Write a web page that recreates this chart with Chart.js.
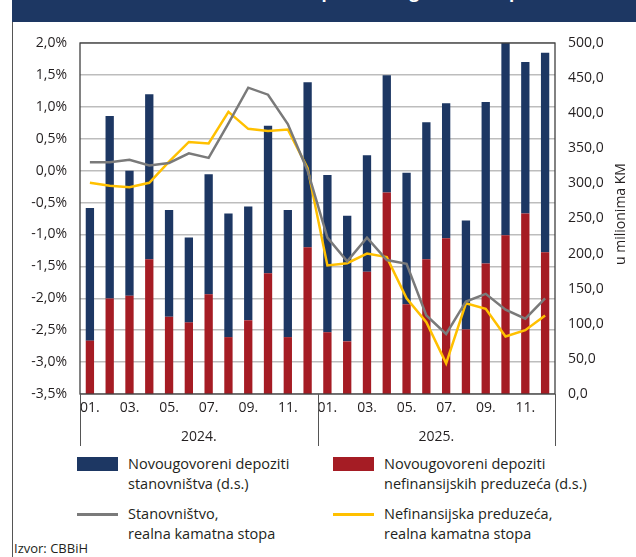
<!DOCTYPE html>
<html>
<head>
<meta charset="utf-8">
<script src="https://cdn.jsdelivr.net/npm/chart.js@4.4.1/dist/chart.umd.min.js"></script>
<style>
  body { margin: 0; background: #fff; font-family: "Open Sans", sans-serif; color: #231f20; }
  #wrap { position: relative; width: 636px; height: 557px; overflow: hidden; }
  #head { position: absolute; left: 12px; top: 0; width: 624px; height: 22px; background: #1d3763; overflow: hidden; }
  #head span { position: absolute; left: 140px; top: -20px; color: #fff; font-weight: bold; font-size: 17px; white-space: nowrap; line-height: 24px; }
  #edge { position: absolute; left: 12px; top: 22px; width: 1px; height: 535px; background: #555; }
  #cv { position: absolute; left: 0; top: 0; }
  .lg { position: absolute; font-size: 14.5px; line-height: 20px; }
  .box { position: absolute; width: 41px; height: 14px; }
  .ln { position: absolute; width: 41px; height: 3px; }
  #src { position: absolute; left: 14px; top: 539px; font-size: 13px; }
</style>
</head>
<body>
<div id="wrap">
  <div id="head"><span>Realne kamatne stope i novougovoreni depoziti</span></div>
  <div id="edge"></div>
  <canvas id="cv" width="636" height="450"></canvas>

  <div class="box" style="left:77px;top:457px;background:#1d3763"></div>
  <div class="lg" style="left:128px;top:454px">Novougovoreni depoziti<br>stanovništva (d.s.)</div>
  <div class="box" style="left:333px;top:457px;background:#a51c24"></div>
  <div class="lg" style="left:384px;top:454px">Novougovoreni depoziti<br>nefinansijskih preduzeća (d.s.)</div>
  <div class="ln" style="left:77px;top:513px;background:#7a7a7a"></div>
  <div class="lg" style="left:128px;top:504px">Stanovništvo,<br>realna kamatna stopa</div>
  <div class="ln" style="left:333px;top:513px;background:#ffc000"></div>
  <div class="lg" style="left:384px;top:504px">Nefinansijska preduzeća,<br>realna kamatna stopa</div>
  <div id="src">Izvor: CBBiH</div>
</div>
<script>
// months, two years
const months = ['01.','02.','03.','04.','05.','06.','07.','08.','09.','10.','11.','12.',
                '01.','02.','03.','04.','05.','06.','07.','08.','09.','10.','11.','12.'];
const years = ['2024.', '2025.'];

// novougovoreni depoziti, u milionima KM (desna skala)
const preduzeca = [76, 136, 140, 192, 110, 102, 142, 81, 105, 172, 81, 209,
                   88, 75, 174, 287, 128, 192, 222, 92, 186, 226, 257, 202];
const stanovnistvo = [189, 260, 178, 235, 152, 121, 171, 176, 162, 210, 181, 235,
                      224, 179, 166, 167, 187, 195, 192, 155, 230, 274, 216, 284];

// realne kamatne stope, % (lijeva skala)
const stopaStan = [0.13, 0.13, 0.17, 0.08, 0.12, 0.27, 0.20, 0.74, 1.30, 1.19, 0.73, 0.00,
                   -1.05, -1.42, -1.05, -1.40, -1.46, -2.27, -2.56, -2.05, -1.93, -2.18, -2.32, -2.00];
const stopaPred = [-0.19, -0.235, -0.26, -0.19, 0.14, 0.45, 0.425, 0.92, 0.655, 0.62, 0.645, 0.04,
                   -1.485, -1.45, -1.30, -1.355, -2.0, -2.375, -3.02, -2.08, -2.165, -2.6, -2.5, -2.27];

const txt = '#231f20';
const font = { family: 'Open Sans', size: 14 };

const extras = {
  id: 'extras',
  afterDraw(chart) {
    const c = chart.ctx, a = chart.chartArea, x = chart.scales.x;
    c.save();
    // okvir
    c.strokeStyle = '#404040';
    c.lineWidth = 1.3;
    c.strokeRect(a.left, a.top, a.right - a.left, a.bottom - a.top);
    // razdjelnici godina
    const mid = (x.getPixelForValue(11) + x.getPixelForValue(12)) / 2;
    c.lineWidth = 1;
    c.strokeStyle = '#555';
    c.beginPath();
    [a.left, mid, a.right].forEach(px => {
      c.moveTo(Math.round(px) + 0.5, a.bottom);
      c.lineTo(Math.round(px) + 0.5, 446);
    });
    c.stroke();
    c.fillStyle = txt;
    c.font = '14px "Open Sans"';
    c.textAlign = 'center';
    c.textBaseline = 'middle';
    c.fillText(years[0], (a.left + mid) / 2, 437);
    c.fillText(years[1], (mid + a.right) / 2, 437);
    // naslov desne ose
    c.translate(621, 214);
    c.rotate(-Math.PI / 2);
    c.fillText('u milionima KM', 0, 0);
    c.restore();
  }
};

new Chart(document.getElementById('cv'), {
  data: {
    labels: months,
    datasets: [
      { type: 'line', label: 'Stanovništvo, realna kamatna stopa', data: stopaStan, yAxisID: 'y',
        borderColor: '#7a7a7a', borderWidth: 2.5, pointRadius: 0, tension: 0, order: 0 },
      { type: 'line', label: 'Nefinansijska preduzeća, realna kamatna stopa', data: stopaPred, yAxisID: 'y',
        borderColor: '#ffc000', borderWidth: 2.5, pointRadius: 0, tension: 0, order: 0 },
      { type: 'bar', label: 'Novougovoreni depoziti nefinansijskih preduzeća (d.s.)', data: preduzeca, yAxisID: 'y1',
        backgroundColor: '#a51c24', stack: 'd', order: 1, categoryPercentage: 1, barPercentage: 0.42 },
      { type: 'bar', label: 'Novougovoreni depoziti stanovništva (d.s.)', data: stanovnistvo, yAxisID: 'y1',
        backgroundColor: '#1d3763', stack: 'd', order: 1, categoryPercentage: 1, barPercentage: 0.42 }
    ]
  },
  options: {
    responsive: false,
    animation: false,
    layout: { padding: { top: 43, left: 0, right: 0, bottom: 0 } },
    plugins: { legend: { display: false }, tooltip: { enabled: false } },
    scales: {
      x: {
        stacked: true,
        grid: { display: false, drawTicks: false },
        border: { display: false },
        ticks: {
          color: txt, font: font, padding: 6, autoSkip: false, maxRotation: 0,
          callback: (v, i) => i % 2 === 0 ? months[i] : ''
        },
        afterFit: s => { s.height = 56; }
      },
      y: {
        position: 'left', min: -3.5, max: 2.0,
        grid: { color: '#bdbdbd', lineWidth: 1.4, drawTicks: false },
        border: { display: false },
        ticks: {
          stepSize: 0.5, color: txt, font: font, padding: 13,
          callback: v => v.toFixed(1).replace('.', ',') + '%'
        },
        afterFit: s => { s.width = 80; }
      },
      y1: {
        position: 'right', min: 0, max: 500, stacked: true,
        grid: { display: false, drawTicks: false },
        border: { display: false },
        ticks: {
          stepSize: 50, color: txt, font: font, padding: 13,
          callback: v => v.toFixed(1).replace('.', ',')
        },
        afterFit: s => { s.width = 81; }
      }
    }
  },
  plugins: [extras]
});
</script>
</body>
</html>
